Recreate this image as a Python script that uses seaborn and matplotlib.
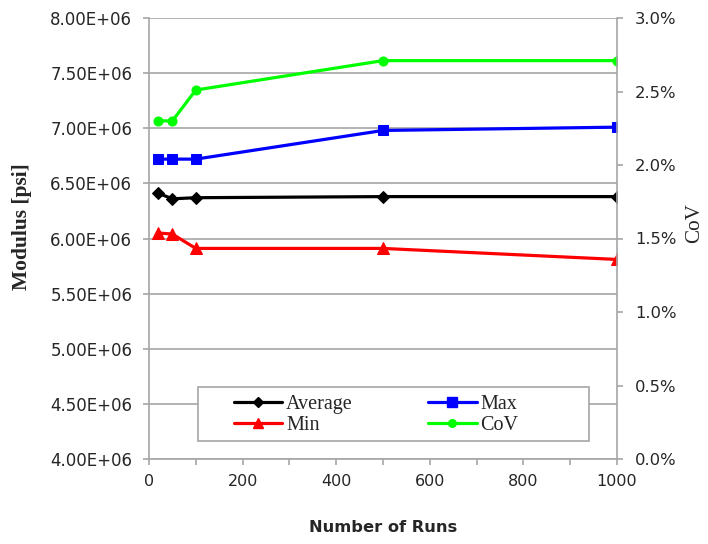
import matplotlib
matplotlib.use("Agg")
import matplotlib.pyplot as plt
import matplotlib.ticker as mticker
from matplotlib.patches import Rectangle
from matplotlib.lines import Line2D
import seaborn as sns
import pandas as pd

runs = [20, 50, 100, 500, 1000]
average = [6.41e6, 6.36e6, 6.37e6, 6.38e6, 6.38e6]
maximum = [6.72e6, 6.72e6, 6.72e6, 6.98e6, 7.01e6]
minimum = [6.05e6, 6.04e6, 5.91e6, 5.91e6, 5.81e6]
cov = [2.30, 2.30, 2.51, 2.71, 2.71]  # percent

sns.set_theme(style="white")
plt.rcParams['font.family'] = ['DejaVu Sans']

W, H = 708, 544
L, R, T, B = 149, 617, 18, 459
fig = plt.figure(figsize=(W/100, H/100), dpi=100)
ax = fig.add_axes([L/W, 1-B/H, (R-L)/W, (B-T)/H])
ax2 = ax.twinx()

def ax_x(px):
    return (px - L) / (R - L)

def ax_y(py):
    return (B - py) / (B - T)

df = pd.DataFrame({"runs": runs, "Average": average, "Max": maximum,
                   "Min": minimum, "CoV": cov})

lw = 2.3
sns.lineplot(data=df, x="runs", y="Average", ax=ax, color="black", marker="D",
             markersize=6, linewidth=lw, markeredgecolor="black")
sns.lineplot(data=df, x="runs", y="Max", ax=ax, color="#0000ff", marker="s",
             markersize=7, linewidth=lw, markeredgecolor="#0000ff")
sns.lineplot(data=df, x="runs", y="Min", ax=ax, color="#ff0000", marker="^",
             markersize=8, linewidth=lw, markeredgecolor="#ff0000")
sns.lineplot(data=df, x="runs", y="CoV", ax=ax2, color="#00ff00", marker="o",
             markersize=6.5, linewidth=lw, markeredgecolor="#00ff00")

ax.set_xlim(0, 1000)
ax.set_ylim(4.0e6, 8.0e6)
ax2.set_ylim(0, 3.0)
ax.set_xticks(range(0, 1001, 200))
ax.set_xticks(range(100, 1000, 200), minor=True)
ax.set_yticks([4.0e6 + 0.5e6*i for i in range(9)])
ax2.set_yticks([0.5*i for i in range(7)])
ax.yaxis.set_major_formatter(mticker.FuncFormatter(
    lambda v, p: f"{v/1e6:.2f}E+06"))
ax2.yaxis.set_major_formatter(mticker.FuncFormatter(lambda v, p: f"{v:.1f}%"))

gc = "#a6a6a6"
tc = "#262626"
ax.grid(axis="y", color=gc, linewidth=1.2)
ax.grid(axis="x", visible=False)
ax2.grid(False)
for a in (ax, ax2):
    for s in a.spines.values():
        s.set_color(gc)
        s.set_linewidth(1.2)
    a.spines["top"].set_visible(False)
ax.spines["right"].set_visible(False)
ax2.spines["left"].set_visible(False)
ax2.spines["bottom"].set_visible(False)

ax.tick_params(axis="y", left=True, direction="out", length=4, width=1.2,
               color=gc, labelsize=12, labelcolor=tc, pad=8)
ax.tick_params(axis="x", which="both", bottom=True, direction="out", length=4,
               width=1.2, color=gc, labelsize=11.5, labelcolor=tc, pad=7)
ax2.tick_params(axis="y", right=True, direction="out", length=4, width=1.2,
                color=gc, labelsize=11.8, labelcolor=tc, pad=9)

ax.set_xlabel("Number of Runs", fontsize=11.7, fontweight="bold", color=tc)
ax.xaxis.label.set_va("center")
ax.xaxis.set_label_coords(0.5, ax_y(528))
ax.set_ylabel("Modulus [psi]", family="Liberation Serif", fontsize=15.5,
              fontweight="bold", color=tc)
ax.yaxis.label.set_va("center")
ax.yaxis.set_label_coords(ax_x(22), ax_y(227))
ax2.set_ylabel("CoV", family="Liberation Serif", fontsize=15.2, color=tc)
ax2.yaxis.label.set_va("center")
ax2.yaxis.set_label_coords(ax_x(695), ax_y(223))

# legend frame
ax2.add_patch(Rectangle((ax_x(198), ax_y(441)), ax_x(589) - ax_x(198),
                        ax_y(387) - ax_y(441), transform=ax2.transAxes,
                        facecolor="white", edgecolor=gc, linewidth=1.2,
                        zorder=5, clip_on=False))

handles = [
    Line2D([], [], color="black", marker="D", markersize=5.5, linewidth=lw),
    Line2D([], [], color="#ff0000", marker="^", markersize=7, linewidth=lw),
    Line2D([], [], color="#0000ff", marker="s", markersize=6.5, linewidth=lw),
    Line2D([], [], color="#00ff00", marker="o", markersize=5.5, linewidth=lw),
]
labels = ["Average", "Min", "Max", "CoV"]
leg = ax2.legend(handles, labels, ncol=2, loc="upper left",
                 bbox_to_anchor=(ax_x(234), ax_y(395)),
                 prop={"family": "Liberation Serif", "size": 14.5},
                 frameon=False, handlelength=2.39, handletextpad=0.2,
                 columnspacing=3.75, labelspacing=0.1, borderpad=0,
                 borderaxespad=0)
leg.set_zorder(6)

fig.savefig("out.png", dpi=100)
